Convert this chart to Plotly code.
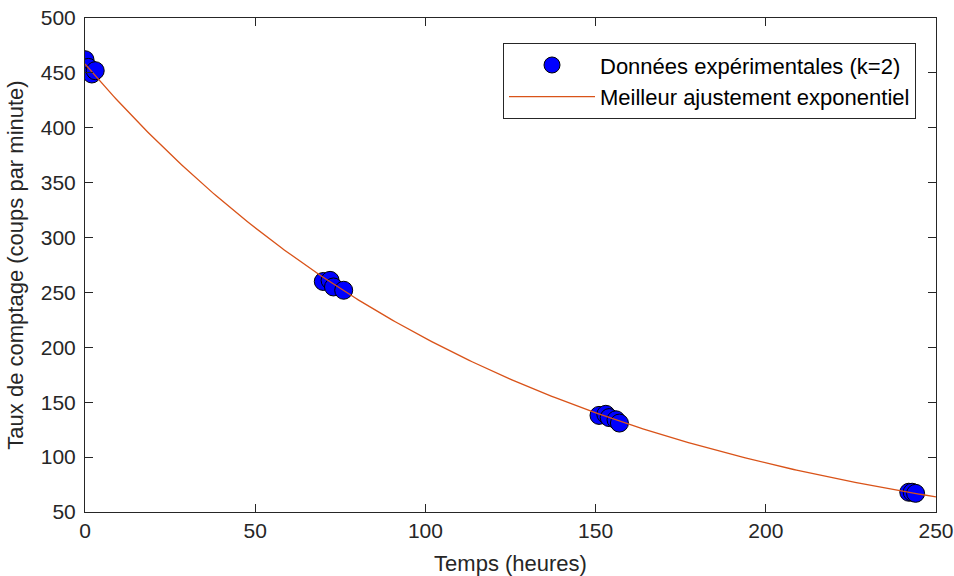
import numpy as np
import plotly.graph_objects as go

temps = [0, 1, 2, 3, 70, 72, 73, 76, 151, 153, 154, 156, 157, 242, 243, 244]
taux = [462, 455, 449, 452, 260, 261, 255, 252, 138, 139, 136, 134, 131, 68, 68, 67]
incertitude = [6, 6, 6, 6, 5, 5, 5, 5, 4, 4, 4, 4, 4, 3, 3, 3]

x_ticks = [0, 50, 100, 150, 200, 250]
y_ticks = [50, 100, 150, 200, 250, 300, 350, 400, 450, 500]

# Best exponential fit from the data (log-linear least squares)
t_arr = np.array(temps, dtype=float)
y_arr = np.array(taux, dtype=float)
pente, ordonnee = np.polyfit(t_arr, np.log(y_arr), 1)
t_fit = np.linspace(0, 250, 300)
y_fit = np.exp(ordonnee) * np.exp(pente * t_fit)

FONT = "Liberation Sans, Arial, sans-serif"
TXT = "#262626"

fig = go.Figure()
fig.add_trace(go.Scatter(
    x=temps, y=taux, mode="markers",
    name="Données expérimentales (k=2)",
    error_y=dict(type="data", array=incertitude, visible=True,
                 color="#4DA6E8", thickness=1, width=5),
    marker=dict(color="#0000FF", size=18, line=dict(color="black", width=1)),
))
fig.add_trace(go.Scatter(
    x=t_fit, y=y_fit, mode="lines",
    name="Meilleur ajustement exponentiel",
    line=dict(color="#D95319", width=1.3),
))

axis_common = dict(
    showline=True, linecolor=TXT, linewidth=1, mirror="ticks",
    ticks="inside", ticklen=8, tickcolor=TXT, showgrid=False, zeroline=False,
    tickfont=dict(family=FONT, size=21, color=TXT), automargin=False,
)
fig.update_xaxes(range=[0, 250], tickvals=x_ticks,
                 title=dict(text="Temps (heures)", font=dict(family=FONT, size=22, color=TXT), standoff=15),
                 **axis_common)
fig.update_yaxes(range=[50, 500], tickvals=y_ticks, ticklabelstandoff=4,
                 title=dict(text="Taux de comptage (coups par minute)", font=dict(family=FONT, size=22, color=TXT), standoff=11),
                 **axis_common)

fig.update_layout(
    width=954, height=576,
    margin=dict(l=85, r=18, t=18, b=64),
    plot_bgcolor="white", paper_bgcolor="white",
    font=dict(family=FONT, color=TXT),
    legend=dict(x=0.9765, y=0.949, xanchor="right", yanchor="top",
                bgcolor="white", bordercolor=TXT, borderwidth=1,
                font=dict(family=FONT, size=22, color="black"),
                itemwidth=86),
    showlegend=True,
)

fig.write_html("out.html", config={"displayModeBar": False},
               post_script="document.body.style.margin='0';document.body.style.overflow='hidden';")
